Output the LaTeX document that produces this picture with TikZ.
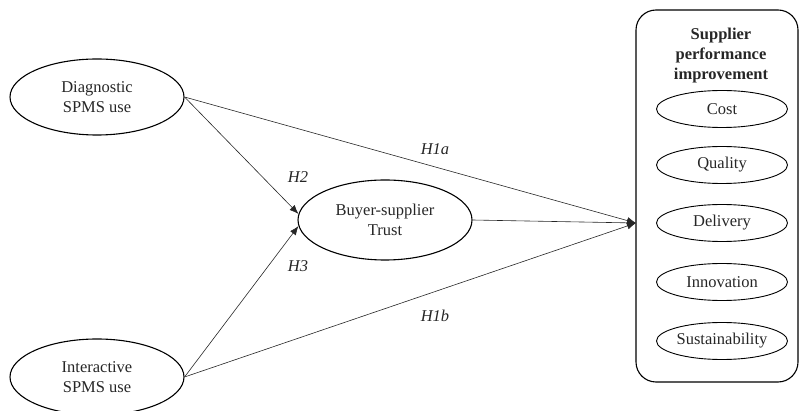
\documentclass[tikz,border=0pt]{standalone}
\usepackage{fontspec}
\setmainfont{Liberation Serif}
\usetikzlibrary{shapes.geometric,arrows.meta}
\begin{document}
\begin{tikzpicture}[x=1pt,y=-1pt,
  txt/.style={font=\fontsize{16.5}{20}\selectfont, text=black!85},
  construct/.style={txt,draw,ellipse,line width=1.1pt,minimum width=174pt,
    minimum height=76pt,inner sep=0pt,align=center},
  dimension/.style={txt,draw,ellipse,line width=0.9pt,minimum width=131pt,
    minimum height=37pt,inner sep=0pt},
  link/.style={line width=0.6pt,draw=black!85,-{Latex[length=9pt,width=7pt]}},
  hyp/.style={font=\fontsize{16.5}{20}\selectfont\itshape, text=black!85}]
\useasboundingbox (0,0) rectangle (800,411);

% latent constructs
\node[construct] (diag) at (97,97) {Diagnostic\\SPMS use};
\node[construct] (inter) at (97,377) {Interactive\\SPMS use};
\node[construct, minimum height=80pt] (trust) at (385,220) {Buyer-supplier\\Trust};

% outcome block with its dimensions
\node[draw, rounded corners=20pt, line width=1.1pt, minimum width=162pt,
  minimum height=372pt, inner sep=0pt] (spi) at (717,196) {};
\node[txt, font=\fontsize{16.5}{20}\selectfont\bfseries, align=center] (title)
  at (721,56) {Supplier\\performance\\improvement};
\node[dimension] (cost) at (722,109) {Cost};
\node[dimension] (quality) at (722,165) {Quality};
\node[dimension] (delivery) at (722,223) {Delivery};
\node[dimension] (innov) at (722,282) {Innovation};
\node[dimension] (sust) at (722,341) {Sustainability};

\coordinate (tip) at (636,223);

% hypothesised paths
\draw[link] (diag.east) -- (trust.176);
\draw[link] (inter.east) -- (trust.184);
\draw[link] (diag.east) -- (tip);
\draw[link] (trust.east) -- (tip);
\draw[link] (inter.east) -- (tip);

% path labels
\node[hyp] (h1a) at (435,149) {H1a};
\node[hyp] (h2) at (298,177) {H2};
\node[hyp] (h3) at (298,266) {H3};
\node[hyp] (h1b) at (435,316) {H1b};
\end{tikzpicture}
\end{document}
